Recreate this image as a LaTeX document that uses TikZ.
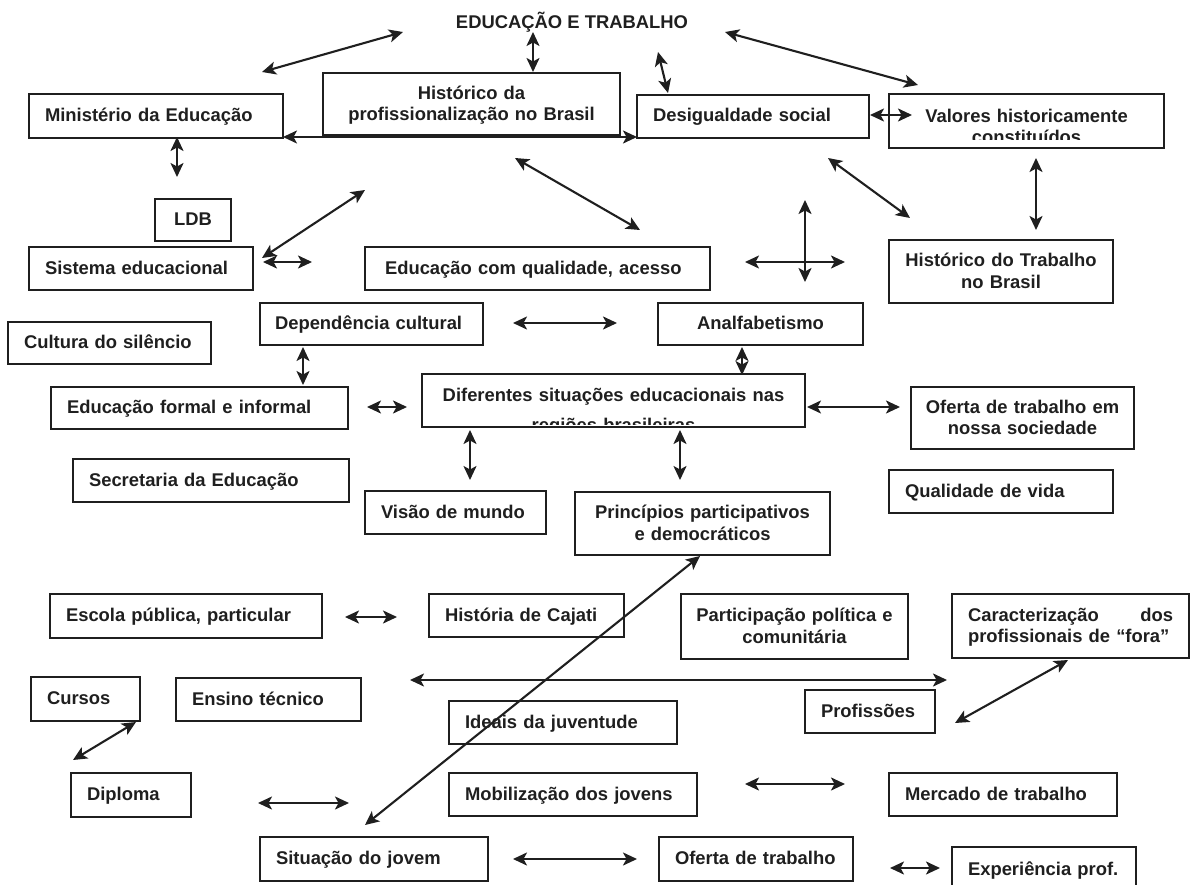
\documentclass[tikz,border=0pt]{standalone}
\usepackage{fontspec}
\setmainfont{Liberation Sans}
\usetikzlibrary{arrows.meta}
\newcommand\mkbox[8]{%
  \pgfmathsetmacro\mbW{#6-#4}%
  \pgfmathsetmacro\mbH{#7-#5}%
  \pgfmathsetmacro\mbX{(#4+#6)/2}%
  \pgfmathsetmacro\mbY{(#5+#7)/2}%
  \pgfmathsetmacro\mbT{#6-#4-2*#2}%
  \node[bx,minimum width=\mbW pt,minimum height=\mbH pt,text width=\mbT pt,#1] (#3) at (\mbX,\mbY) {#8};%
}
\begin{document}
\begin{tikzpicture}[x=1pt,y=-1pt,
  txt/.style={font=\fontsize{18.4}{21.5}\selectfont\bfseries, text=black!88, text height=13pt, text depth=2pt},
  bxl/.style={draw=black!88, line width=2.1pt},
  bx/.style={txt, bxl, inner sep=0pt, outer sep=0pt, align=left},
  two/.style={text depth=22.5pt},
  low/.style={text height=25pt},
  ar/.style={line width=2.1pt, draw=black!88, {Stealth[length=14pt,width=13pt,inset=3.5pt]}-{Stealth[length=14pt,width=13pt,inset=3.5pt]}},
]
\useasboundingbox (0,0) rectangle (1190,885);
\clip (0,0) rectangle (1190,885);

% title
\node[txt] (title) at (572,23) {EDUCAÇÃO E TRABALHO};

% boxes
\mkbox{}{16}{minist}{29}{94}{283}{138}{Ministério da Educação}
\mkbox{align=center,two}{6}{histprof}{323}{73}{620}{135}{Histórico da\\profissionalização no Brasil}
\mkbox{}{16}{desig}{637}{95}{869}{138}{Desigualdade social}
\mkbox{align=center,two,low}{6}{valores}{889}{94}{1164}{148}{Valores historicamente\\constituídos}
\mkbox{align=center}{4}{ldb}{155}{199}{231}{241}{LDB}
\mkbox{}{16}{sistema}{29}{247}{253}{290}{Sistema educacional}
\mkbox{}{20}{educqual}{365}{247}{710}{290}{Educação com qualidade, acesso}
\mkbox{align=center,two}{6}{histtrab}{889}{240}{1113}{303}{Histórico do Trabalho\\no Brasil}
\mkbox{}{16}{cultura}{8}{322}{211}{364}{\mbox{Cultura do silêncio}}
\mkbox{}{15}{depend}{260}{303}{483}{345}{\mbox{Dependência cultural}}
\mkbox{align=center}{6}{analf}{658}{303}{863}{345}{Analfabetismo}
\mkbox{}{16}{eduformal}{51}{387}{348}{429}{Educação formal e informal}
\mkbox{align=center,two,low}{6}{diferentes}{422}{374}{805}{427}{Diferentes situações educacionais nas\\[8pt]regiões brasileiras}
\mkbox{align=center,two}{6}{oferta}{911}{387}{1134}{449}{Oferta de trabalho em\\nossa sociedade}
\mkbox{}{16}{secret}{73}{459}{349}{502}{Secretaria da Educação}
\mkbox{}{16}{visao}{365}{491}{546}{534}{Visão de mundo}
\mkbox{align=center,two}{6}{princ}{575}{492}{830}{555}{Princípios participativos\\e democráticos}
\mkbox{}{16}{qualvida}{889}{470}{1113}{513}{Qualidade de vida}
\mkbox{}{16}{escola}{50}{594}{322}{638}{Escola pública, particular}
\mkbox{}{16}{cajati}{429}{594}{624}{637}{História de Cajati}
\mkbox{align=center,two}{6}{partic}{681}{594}{908}{659}{Participação política e\\comunitária}
\mkbox{two}{16}{caract}{952}{594}{1189}{658}{Caracterização\hfill dos\\profissionais de “fora”}
\mkbox{}{16}{cursos}{31}{677}{140}{721}{Cursos}
\mkbox{}{16}{ensino}{176}{678}{361}{721}{Ensino técnico}
\mkbox{}{16}{ideais}{449}{701}{677}{744}{Ideais da juventude}
\mkbox{}{16}{profissoes}{805}{690}{935}{733}{\mbox{Profissões}}
\mkbox{}{16}{diploma}{71}{773}{191}{817}{Diploma}
\mkbox{}{16}{mobil}{449}{773}{697}{816}{Mobilização dos jovens}
\mkbox{}{16}{mercado}{889}{773}{1117}{816}{Mercado de trabalho}
\mkbox{}{16}{situacao}{260}{837}{488}{881}{Situação do jovem}
\mkbox{}{16}{ofertatrab}{659}{837}{853}{881}{\mbox{Oferta de trabalho}}
\mkbox{}{16}{experiencia}{952}{847}{1136}{893}{\mbox{Experiência prof.}}

% second text lines cut off at the bottom of two boxes (as in the original)
\fill[white] ([xshift=1.2pt]valores.south west |- 0,140) rectangle ([xshift=-1.2pt,yshift=-6pt]valores.south east);
\draw[bxl] (valores.south west) -- (valores.south east);
\fill[white] ([xshift=1.2pt]diferentes.south west |- 0,425) rectangle ([xshift=-1.2pt,yshift=-14pt]diferentes.south east);
\draw[bxl] (diferentes.south west) -- (diferentes.south east);

% arrow end points
\coordinate (a1s) at (262,72);   \coordinate (a1e) at (403,32);
\coordinate (a2s) at (533,32);   \coordinate (a2e) at (533,72);
\coordinate (a3s) at (658,52);   \coordinate (a3e) at (668,93);
\coordinate (a4s) at (725,32);   \coordinate (a4e) at (918,85);
\coordinate (a5s) at (283,137);  \coordinate (a5e) at (637,137);
\coordinate (a6s) at (870,115);  \coordinate (a6e) at (912,115);
\coordinate (a7s) at (177,137);  \coordinate (a7e) at (177,177);
\coordinate (a8s) at (515,158);  \coordinate (a8e) at (640,230);
\coordinate (a9s) at (828,158);  \coordinate (a9e) at (910,218);
\coordinate (a10s) at (1036,158); \coordinate (a10e) at (1036,230);
\coordinate (a11s) at (262,258); \coordinate (a11e) at (365,190);
\coordinate (a12s) at (263,262); \coordinate (a12e) at (312,262);
\coordinate (a13s) at (745,262); \coordinate (a13e) at (845,262);
\coordinate (a14s) at (805,200); \coordinate (a14e) at (805,282);
\coordinate (a15s) at (513,323); \coordinate (a15e) at (617,323);
\coordinate (a16s) at (303,347); \coordinate (a16e) at (303,385);
\coordinate (a17s) at (742,347); \coordinate (a17e) at (742,375);
\coordinate (a18s) at (367,407); \coordinate (a18e) at (407,407);
\coordinate (a19s) at (807,407); \coordinate (a19e) at (900,407);
\coordinate (a20s) at (470,430); \coordinate (a20e) at (470,480);
\coordinate (a21s) at (680,430); \coordinate (a21e) at (680,480);
\coordinate (a22s) at (345,617); \coordinate (a22e) at (397,617);
\coordinate (a23s) at (410,680); \coordinate (a23e) at (947,680);
\coordinate (a24s) at (1068,660); \coordinate (a24e) at (955,723);
\coordinate (a25s) at (136,722); \coordinate (a25e) at (73,760);
\coordinate (a26s) at (258,803); \coordinate (a26e) at (349,803);
\coordinate (a27s) at (745,784); \coordinate (a27e) at (845,784);
\coordinate (a28s) at (365,825); \coordinate (a28e) at (700,556);
\coordinate (a29s) at (513,859); \coordinate (a29e) at (637,859);
\coordinate (a30s) at (890,868); \coordinate (a30e) at (940,868);

\foreach \i in {1,...,30} {\draw[ar] (a\i s) -- (a\i e);}
\end{tikzpicture}
\end{document}
